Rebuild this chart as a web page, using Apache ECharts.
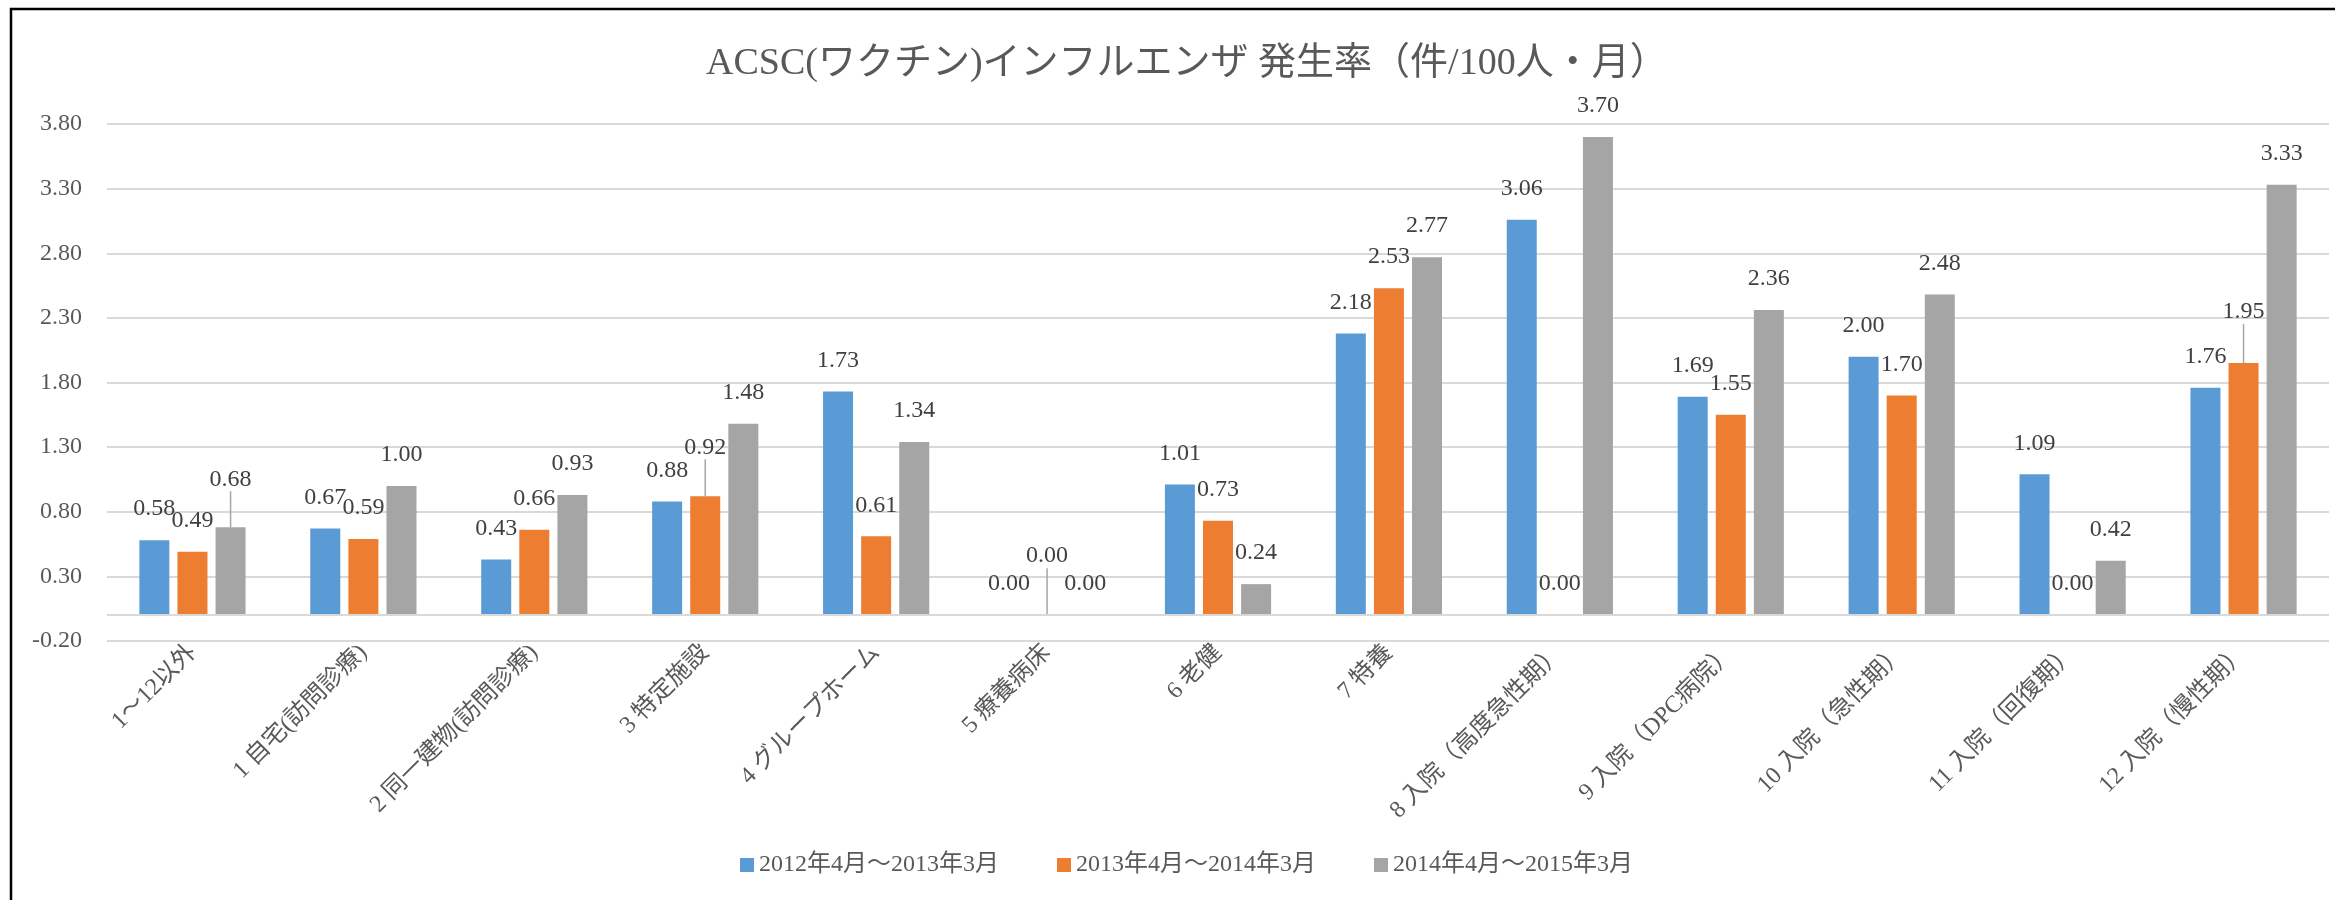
<!DOCTYPE html>
<html><head><meta charset="utf-8">
<script src="https://cdn.jsdelivr.net/npm/echarts@6/dist/echarts.min.js"></script>
<style>html,body{margin:0;padding:0;background:#fff}#c{width:2335px;height:900px}</style>
</head><body><div id="c"></div><script>
// ---- data ----
const titleText = 'ACSC(ワクチン)インフルエンザ 発生率（件/100人・月）';
const categories = ['1～12以外','1 自宅(訪問診療)','2 同一建物(訪問診療)','3 特定施設','4 グループホーム','5 療養病床','6 老健','7 特養','8 入院（高度急性期）','9 入院（DPC病院）','10 入院（急性期）','11 入院（回復期）','12 入院（慢性期）'];
const seriesNames = ['2012年4月～2013年3月','2013年4月～2014年3月','2014年4月～2015年3月'];
const fy2012 = [0.58,0.67,0.43,0.88,1.73,0.00,1.01,2.18,3.06,1.69,2.00,1.09,1.76];
const fy2013 = [0.49,0.59,0.66,0.92,0.61,0.00,0.73,2.53,0.00,1.55,1.70,0.00,1.95];
const fy2014 = [0.68,1.00,0.93,1.48,1.34,0.00,0.24,2.77,3.70,2.36,2.48,0.42,3.33];
const yMin = -0.2, yMax = 3.8, yInterval = 0.5;

// ---- styling ----
const FONT = "'Liberation Serif','Noto Sans CJK JP',serif";
const colors = ['#5B9BD5','#ED7D31','#A5A5A5'];
// labels lifted away from their bar with a leader line: [seriesIndex, dataIndex, dy]
const lifted = [[2,0,-17],[1,3,-18],[1,5,-28],[1,12,-20]];

const allData = [fy2012, fy2013, fy2014];
function liftOf(s, i){ const f = lifted.find(l => l[0]===s && l[1]===i); return f ? f[2] : 0; }

const series = allData.map((arr, s) => ({
  name: seriesNames[s],
  type: 'bar',
  barWidth: 30,
  barGap: '27%',
  itemStyle: { color: colors[s] },
  data: arr.map((v, i) => liftOf(s, i) ? { value: v, labelLine: { show: true } } : v),
  label: {
    show: true, position: 'top', distance: 19,
    formatter: p => p.value.toFixed(2),
    fontFamily: FONT, fontSize: 24, color: '#404040'
  },
  labelLine: { show: false, lineStyle: { color: '#a6a6a6', width: 1.5 } },
  labelLayout: p => { const d = liftOf(p.seriesIndex, p.dataIndex); return d ? { dy: d } : {}; },
  markLine: s === 0 ? {
    silent: true, symbol: 'none', label: { show: false },
    lineStyle: { color: '#d9d9d9', width: 2, type: 'solid' },
    data: [{ yAxis: 0 }]
  } : undefined
}));

const chart = echarts.init(document.getElementById('c'), null, { renderer: 'canvas' });
chart.setOption({
  animation: false,
  backgroundColor: '#fff',
  title: {
    text: titleText, left: 701, top: 40,
    textStyle: { fontFamily: FONT, fontSize: 38, fontWeight: 'normal', color: '#595959' }
  },
  legend: {
    left: 735, top: 848, itemWidth: 14, itemHeight: 14, itemGap: 58,
    icon: 'rect',
    textStyle: { fontFamily: FONT, fontSize: 24, color: '#595959' },
    data: seriesNames
  },
  grid: { left: 107, right: 6, top: 124, bottom: 259 },
  xAxis: {
    type: 'category', data: categories,
    axisLine: { show: false, onZero: false }, axisTick: { show: false },
    axisLabel: { interval: 0, rotate: 45, margin: 8, fontFamily: FONT, fontSize: 24, color: '#595959' }
  },
  yAxis: {
    type: 'value', min: yMin, max: yMax, interval: yInterval,
    axisLine: { show: false }, axisTick: { show: false },
    splitLine: { lineStyle: { color: '#d9d9d9', width: 2 } },
    axisLabel: { formatter: v => v.toFixed(2), margin: 25, fontFamily: FONT, fontSize: 24, color: '#595959' }
  },
  graphic: [{
    type: 'rect', silent: true, z: 100,
    shape: { x: 11, y: 9, width: 2400, height: 1000 },
    style: { fill: 'none', stroke: '#000', lineWidth: 2.5 }
  }],
  series
});
</script></body></html>
